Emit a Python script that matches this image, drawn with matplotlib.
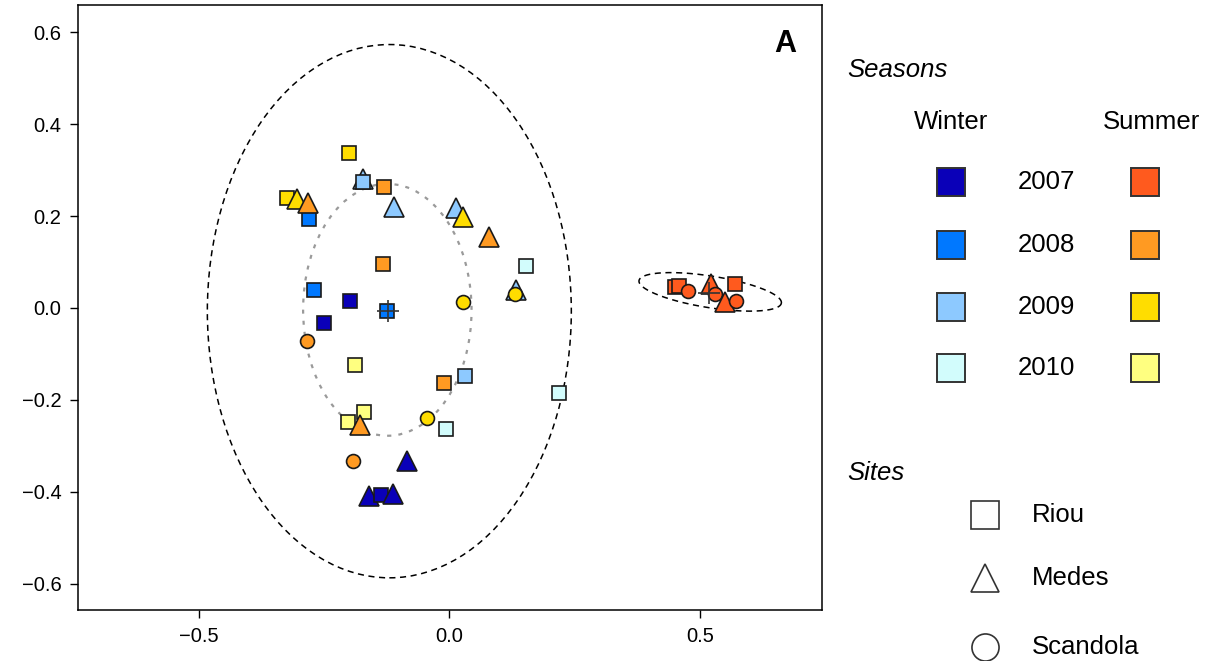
import numpy as np
import matplotlib.pyplot as plt
from matplotlib.patches import Ellipse

plt.rcParams['font.family'] = ['Liberation Sans', 'DejaVu Sans']

# colours for season/year
winter_cols = {2007: '#0A00B8', 2008: '#0078FF', 2009: '#8DC9FF', 2010: '#D2FCFC'}
summer_cols = {2007: '#FF5A1E', 2008: '#FF9A22', 2009: '#FFDD00', 2010: '#FFFF80'}
site_markers = {'Riou': 's', 'Medes': '^', 'Scandola': 'o'}
site_sizes = {'Riou': 10.3, 'Medes': 14, 'Scandola': 10}

# points (drawn in this order, later ones on top)
pt_x = [-0.199, -0.250, -0.280, -0.270, -0.131, -0.133, -0.173, -0.173,
        -0.200, -0.325, -0.305, -0.283, -0.111, 0.013, 0.027, 0.079,
        0.153, 0.133, 0.131, 0.027, -0.284, -0.189, -0.011, 0.031,
        -0.171, -0.203, -0.179, -0.045, -0.007, 0.219, -0.193, -0.085,
        -0.160, -0.137, -0.113, -0.125,
        0.450, 0.458, 0.476, 0.522, 0.530, 0.570, 0.550, 0.572]
pt_y = [0.015, -0.033, 0.193, 0.039, 0.263, 0.096, 0.280, 0.274,
        0.337, 0.239, 0.236, 0.228, 0.220, 0.217, 0.198, 0.154,
        0.091, 0.039, 0.030, 0.013, -0.072, -0.124, -0.163, -0.148,
        -0.226, -0.248, -0.254, -0.239, -0.263, -0.185, -0.333, -0.333,
        -0.410, -0.407, -0.404, -0.007,
        0.046, 0.048, 0.037, 0.052, 0.030, 0.052, 0.013, 0.015]
pt_season = ['W', 'W', 'W', 'W', 'S', 'S', 'W', 'W',
             'S', 'S', 'S', 'S', 'W', 'W', 'S', 'S',
             'W', 'W', 'S', 'S', 'S', 'S', 'S', 'W',
             'S', 'S', 'S', 'S', 'W', 'W', 'S', 'W',
             'W', 'W', 'W', 'W',
             'S', 'S', 'S', 'S', 'S', 'S', 'S', 'S']
pt_year = [2007, 2007, 2008, 2008, 2008, 2008, 2009, 2009,
           2009, 2009, 2009, 2008, 2009, 2009, 2009, 2008,
           2010, 2009, 2009, 2009, 2008, 2010, 2008, 2009,
           2010, 2010, 2008, 2009, 2010, 2010, 2008, 2007,
           2007, 2007, 2007, 2008,
           2007, 2007, 2007, 2007, 2007, 2007, 2007, 2007]
pt_site = ['Riou', 'Riou', 'Riou', 'Riou', 'Riou', 'Riou', 'Medes', 'Riou',
           'Riou', 'Riou', 'Medes', 'Medes', 'Medes', 'Medes', 'Medes', 'Medes',
           'Riou', 'Medes', 'Scandola', 'Scandola', 'Scandola', 'Riou', 'Riou', 'Riou',
           'Riou', 'Riou', 'Medes', 'Scandola', 'Riou', 'Riou', 'Scandola', 'Medes',
           'Medes', 'Riou', 'Medes', 'Riou',
           'Riou', 'Riou', 'Scandola', 'Medes', 'Scandola', 'Riou', 'Medes', 'Scandola']

# ellipses: centre and semi axes
big_center = (-0.120, -0.007)
big_semi = (0.363, 0.580)
inner_center = (-0.124, -0.004)
inner_semi = (0.168, 0.274)
right_center = (0.520, 0.035)
right_major = (0.142, -0.0245)
right_minor = (0.005, 0.034)
cross_x = [-0.123, 0.518]
cross_y = [-0.007, 0.033]

years = [2007, 2008, 2009, 2010]

fig = plt.figure(figsize=(12.05, 6.61), dpi=100)
ax = fig.add_axes([78/1205, 1-610/661, 744/1205, 605/661])

ax.add_patch(Ellipse(big_center, 2*big_semi[0], 2*big_semi[1], fill=False,
                     ec='black', lw=1.1, ls=(0, (4, 3)), zorder=1))
ax.add_patch(Ellipse(inner_center, 2*inner_semi[0], 2*inner_semi[1], fill=False,
                     ec='#9a9a9a', lw=1.6, ls=(0, (1.8, 3.2)), zorder=1))
t = np.linspace(0, 2*np.pi, 300)
ex = right_center[0] + np.cos(t)*right_major[0] + np.sin(t)*right_minor[0]
ey = right_center[1] + np.cos(t)*right_major[1] + np.sin(t)*right_minor[1]
ax.plot(ex, ey, color='black', lw=1.1, ls=(0, (4, 3)), zorder=1)

for i in range(len(pt_x)):
    cols = winter_cols if pt_season[i] == 'W' else summer_cols
    ax.plot(pt_x[i], pt_y[i], marker=site_markers[pt_site[i]],
            ms=site_sizes[pt_site[i]], mfc=cols[pt_year[i]], mec='#1a1a1a',
            mew=1.2, ls='none', zorder=3 + i*0.01)

ax.plot(cross_x, cross_y, marker='+', ms=16, mew=1.2, color='#333333',
        ls='none', zorder=5)

ax.set_xlim(-0.741, 0.743)
ax.set_ylim(-0.657, 0.659)
ax.set_xticks([-0.5, 0.0, 0.5])
ax.set_yticks([-0.6, -0.4, -0.2, 0.0, 0.2, 0.4, 0.6])
ax.set_xticklabels(['\u22120.5', '0.0', '0.5'])
ax.set_yticklabels(['\u22120.6', '\u22120.4', '\u22120.2', '0.0', '0.2', '0.4', '0.6'])
ax.tick_params(direction='out', length=6, width=1, labelsize=14.5, pad=6)
for s in ax.spines.values():
    s.set_linewidth(1.1)
ax.text(0.965, 0.96, 'A', transform=ax.transAxes, fontsize=22, fontweight='bold',
        ha='right', va='top')

# legend drawn in pixel coordinates
lg = fig.add_axes([0, 0, 1, 1])
lg.set_xlim(0, 1205)
lg.set_ylim(661, 0)
lg.axis('off')

fs = 18.5
lg.text(847, 70, 'Seasons', fontsize=fs, style='italic', va='center', ha='left')
lg.text(951, 122, 'Winter', fontsize=fs, va='center', ha='center')
lg.text(1151, 122, 'Summer', fontsize=fs, va='center', ha='center')
row_y = [182, 245, 307, 368]
for k, yr in enumerate(years):
    lg.plot(951, row_y[k], marker='s', ms=19.5, mfc=winter_cols[yr], mec='#333333',
            mew=1.4, ls='none')
    lg.plot(1145, row_y[k], marker='s', ms=19.5, mfc=summer_cols[yr], mec='#333333',
            mew=1.4, ls='none')
    lg.text(1018, row_y[k], str(yr), fontsize=fs, va='center', ha='left')

lg.text(847, 473, 'Sites', fontsize=fs, style='italic', va='center', ha='left')
site_rows = [515, 578, 647]
for k, site in enumerate(['Riou', 'Medes', 'Scandola']):
    lg.plot(985, site_rows[k], marker=site_markers[site], ms=19.5, mfc='white',
            mec='#333333', mew=1.2, ls='none')
    lg.text(1032, site_rows[k], site, fontsize=fs, va='center', ha='left')

fig.savefig('out.png', dpi=100)
